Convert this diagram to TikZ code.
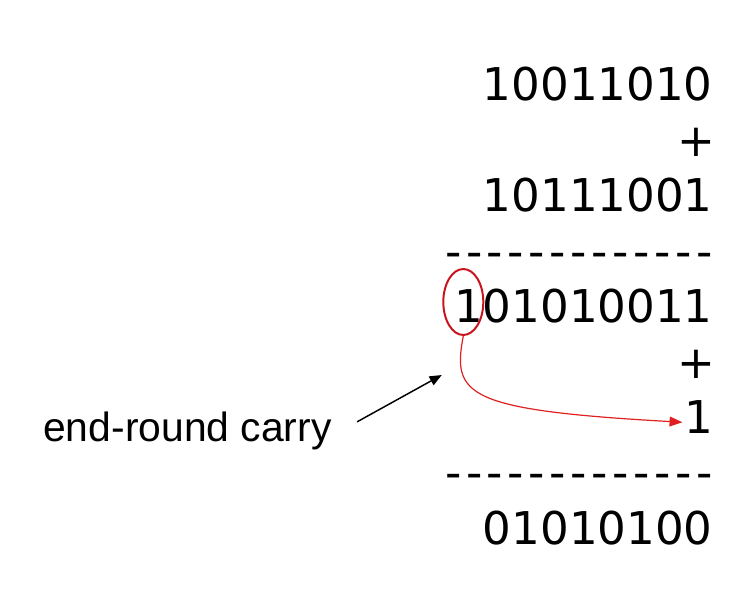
\documentclass[tikz,border=0pt]{standalone}
\usepackage{fontspec}
\usetikzlibrary{arrows.meta,shapes.geometric}
\newfontfamily\bitsfont{DejaVu Sans}
\newfontfamily\notefont{Liberation Sans}
\definecolor{ovalred}{HTML}{C8141E}
\definecolor{wrapred}{HTML}{E02020}
\newcommand{\dashrow}{-\foreach \k in {1,...,12}{\kern3.5pt-}}
\tikzset{
  bits/.style={font=\bitsfont\fontsize{34}{40}\selectfont, inner sep=0pt, anchor=base east},
  note/.style={font=\notefont\fontsize{30.75}{36}\selectfont, inner sep=0pt, anchor=base west},
  carryoval/.style={ellipse, draw=ovalred, line width=1.5pt, minimum width=1.058cm, minimum height=1.746cm, inner sep=0pt},
  wraparc/.style={-{Triangle[length=3.4mm, width=2.6mm]}, draw=wrapred, line width=0.9pt},
  ptr/.style={-{Triangle[length=3.2mm, width=2.6mm]}, draw=black, line width=1.1pt},
}
\begin{document}
\begin{tikzpicture}[x=1cm,y=1cm]
  \useasboundingbox (0,0) rectangle (19.817,-15.901);
  \node[bits] (augend) at (18.865,-2.672) {10011010};
  \node[bits] (plus1) at (18.945,-4.138) {+};
  \node[bits] (addend) at (18.865,-5.604) {10111001};
  \node[bits] (rule1) at (18.865,-7.070) {\dashrow};
  \node[bits] (sum) at (18.865,-8.535) {101010011};
  \node[bits] (plus2) at (18.945,-10.001) {+};
  \node[bits] (one) at (18.865,-11.467) {1};
  \node[bits] (rule2) at (18.865,-12.933) {\dashrow};
  \node[bits] (result) at (18.865,-14.398) {01010100};
  \node[carryoval] (carry) at (12.258,-7.990) {};
  \node[note] (lblcarry) at (1.138,-11.668) {end-round carry};
  \coordinate (cin) at ([xshift=-1pt,yshift=-4pt]one.west);
  \coordinate (cptr) at (11.687,-9.922);
  \draw[wraparc] (carry.south) .. controls (11.959,-10.451) and (12.303,-10.848) .. (cin);
  \draw[ptr] ([xshift=19pt,yshift=6.5pt]lblcarry.east) -- (cptr);
\end{tikzpicture}
\end{document}
